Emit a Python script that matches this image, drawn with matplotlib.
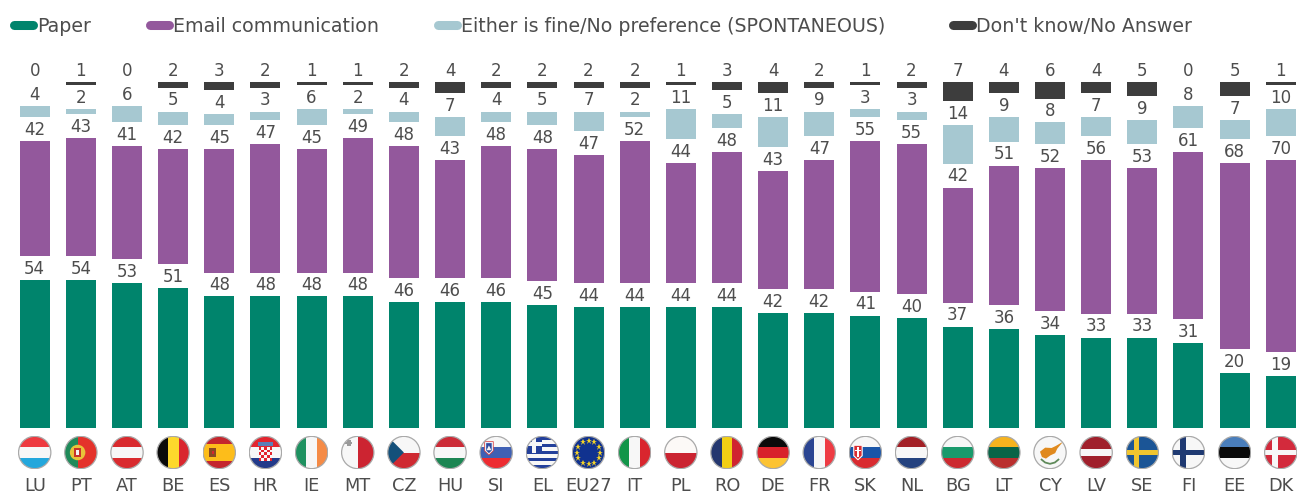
import numpy as np
import matplotlib
matplotlib.use('Agg')
import matplotlib.pyplot as plt
from matplotlib.patches import Circle, Polygon, Rectangle
from matplotlib.lines import Line2D

countries = ['LU', 'PT', 'AT', 'BE', 'ES', 'HR', 'IE', 'MT', 'CZ', 'HU', 'SI', 'EL', 'EU27', 'IT',
             'PL', 'RO', 'DE', 'FR', 'SK', 'NL', 'BG', 'LT', 'CY', 'LV', 'SE', 'FI', 'EE', 'DK']
paper = [54, 54, 53, 51, 48, 48, 48, 48, 46, 46, 46, 45, 44, 44, 44, 44, 42, 42, 41, 40, 37, 36, 34, 33, 33, 31, 20, 19]
email = [42, 43, 41, 42, 45, 47, 45, 49, 48, 43, 48, 48, 47, 52, 44, 48, 43, 47, 55, 55, 42, 51, 52, 56, 53, 61, 68, 70]
either = [4, 2, 6, 5, 4, 3, 6, 2, 4, 7, 4, 5, 7, 2, 11, 5, 11, 9, 3, 3, 14, 9, 8, 7, 9, 8, 7, 10]
dont_know = [0, 1, 0, 2, 3, 2, 1, 1, 2, 4, 2, 2, 2, 2, 1, 3, 4, 2, 1, 2, 7, 4, 6, 4, 5, 0, 5, 1]

series_names = ['Paper', 'Email communication', 'Either is fine/No preference (SPONTANEOUS)', "Don't know/No Answer"]
series_colors = ['#00846c', '#93589c', '#a6c8d1', '#3d3d3d']
legend_x = [10, 146, 434, 949]  # pixels
TEXT = '#4d4d4d'

W, H = 1297, 494
PX_X = 46.15  # px per category
PX_Y = 2.74   # px per percent
BASE = 428    # baseline in px from the top
GAP = 8.75    # room for the labels between the segments

plt.rcParams['font.family'] = ['DejaVu Sans']


def stripes_h(fa, colors, sizes=None):
    sizes = sizes or [1] * len(colors)
    edges = 1 - 2 * np.cumsum([0] + sizes) / sum(sizes)
    for i, c in enumerate(colors):
        fa.add_patch(Rectangle((-1.1, edges[i + 1]), 2.2, edges[i] - edges[i + 1], color=c, lw=0))


def stripes_v(fa, colors, sizes=None):
    sizes = sizes or [1] * len(colors)
    edges = -1 + 2 * np.cumsum([0] + sizes) / sum(sizes)
    for i, c in enumerate(colors):
        fa.add_patch(Rectangle((edges[i], -1.1), edges[i + 1] - edges[i], 2.2, color=c, lw=0))


def nordic(fa, bg, cross):
    fa.add_patch(Rectangle((-1.1, -1.1), 2.2, 2.2, color=bg, lw=0))
    fa.add_patch(Rectangle((-1.1, -0.17), 2.2, 0.34, color=cross, lw=0))
    fa.add_patch(Rectangle((-0.52, -1.1), 0.34, 2.2, color=cross, lw=0))


def draw_flag(fa, code):
    W_ = '#f7f7f7'
    if code == 'LU':
        stripes_h(fa, ['#ee3a40', W_, '#23a7dc'])
    elif code == 'PT':
        stripes_v(fa, ['#1f8a5a', '#e4322b'], [2, 3])
        fa.add_patch(Circle((-0.2, 0), 0.48, color='#e8c33a', lw=0))
        fa.add_patch(Rectangle((-0.44, -0.3), 0.48, 0.6, color='#c8322b', lw=0))
        fa.add_patch(Rectangle((-0.3, -0.16), 0.2, 0.32, color='#f4f4f4', lw=0))
    elif code == 'AT':
        stripes_h(fa, ['#d92a2e', W_, '#d92a2e'])
    elif code == 'BE':
        stripes_v(fa, ['#0a0a0a', '#fdd82c', '#d9262e'])
    elif code == 'ES':
        stripes_h(fa, ['#c4262e', '#fdbd1a', '#c4262e'], [1, 2, 1])
        fa.add_patch(Rectangle((-0.62, -0.28), 0.42, 0.55, color='#8a4a24', lw=0))
        fa.add_patch(Rectangle((-0.48, -0.1), 0.14, 0.2, color='#d9262e', lw=0))
    elif code == 'HR':
        stripes_h(fa, ['#e3252f', W_, '#223a8a'])
        fa.add_patch(Rectangle((-0.42, -0.5), 0.84, 0.85, color=W_, lw=0))
        for i in range(5):
            for j in range(5):
                if (i + j) % 2 == 0:
                    fa.add_patch(Rectangle((-0.42 + i * 0.168, -0.5 + j * 0.17), 0.168, 0.17, color='#e3252f', lw=0))
        fa.add_patch(Rectangle((-0.45, 0.38), 0.9, 0.24, color='#5a7fb8', lw=0))
    elif code == 'IE':
        stripes_v(fa, ['#1e9160', W_, '#f58b46'])
    elif code == 'MT':
        stripes_v(fa, [W_, '#cc2431'])
        fa.add_patch(Rectangle((-0.66, 0.38), 0.22, 0.42, color='#9a9a9a', lw=0))
        fa.add_patch(Rectangle((-0.76, 0.5), 0.42, 0.18, color='#9a9a9a', lw=0))
    elif code == 'CZ':
        stripes_h(fa, [W_, '#cf2a32'])
        fa.add_patch(Polygon([(-1.1, 1.1), (0, 0), (-1.1, -1.1)], color='#14507a', lw=0))
    elif code == 'HU':
        stripes_h(fa, ['#cc2b37', W_, '#1c8653'])
    elif code == 'SI':
        stripes_h(fa, [W_, '#3f60b4', '#ed2c31'])
        fa.add_patch(Polygon([(-0.72, 0.68), (-0.18, 0.68), (-0.18, 0.1), (-0.45, -0.16), (-0.72, 0.1)], color='#e9eef8', ec='#d33', lw=0.5))
        fa.add_patch(Polygon([(-0.62, 0.58), (-0.28, 0.58), (-0.28, 0.12), (-0.45, -0.04), (-0.62, 0.12)], color='#2d4aa0', lw=0))
        fa.add_patch(Polygon([(-0.6, 0.14), (-0.45, 0.44), (-0.3, 0.14)], color='#f4f4f4', lw=0))
    elif code == 'EL':
        stripes_h(fa, ['#23409b', W_] * 4 + ['#23409b'])
        fa.add_patch(Rectangle((-1.1, 0.0), 1.1, 1.1, color='#23409b', lw=0))
        fa.add_patch(Rectangle((-1.1, 0.42), 1.1, 0.2, color=W_, lw=0))
        fa.add_patch(Rectangle((-0.62, 0.0), 0.2, 1.1, color=W_, lw=0))
    elif code == 'EU27':
        fa.add_patch(Rectangle((-1.1, -1.1), 2.2, 2.2, color='#10328f', lw=0))
        ang = np.arange(12) * np.pi / 6
        fa.plot(0.72 * np.cos(ang), 0.72 * np.sin(ang), ls='', marker='*', ms=5, mfc='#f5d327', mew=0)
    elif code == 'IT':
        stripes_v(fa, ['#129549', W_, '#d9262e'])
    elif code == 'PL':
        stripes_h(fa, ['#fcf9f7', '#cb2431'])
    elif code == 'RO':
        stripes_v(fa, ['#24376f', '#f2cf14', '#d02530'])
    elif code == 'DE':
        stripes_h(fa, ['#0a0a0a', '#d8212b', '#fcc332'])
    elif code == 'FR':
        stripes_v(fa, ['#2b4592', W_, '#ee3b43'])
    elif code == 'SK':
        stripes_h(fa, [W_, '#1a55a8', '#d92b30'])
        fa.add_patch(Polygon([(-0.72, 0.45), (-0.2, 0.45), (-0.2, -0.2), (-0.46, -0.45), (-0.72, -0.2)], color='#d92b30', ec='white', lw=0.8))
        fa.add_patch(Rectangle((-0.5, -0.25), 0.08, 0.6, color='white', lw=0))
        fa.add_patch(Rectangle((-0.62, 0.08), 0.32, 0.07, color='white', lw=0))
    elif code == 'NL':
        stripes_h(fa, ['#a32026', W_, '#24427f'])
    elif code == 'BG':
        stripes_h(fa, [W_, '#199a6c', '#cc2a30'])
    elif code == 'LT':
        stripes_h(fa, ['#f6b31f', '#096447', '#ba2f2e'])
    elif code == 'CY':
        fa.add_patch(Rectangle((-1.1, -1.1), 2.2, 2.2, color=W_, lw=0))
        fa.add_patch(Polygon([(-0.62, 0.05), (-0.3, 0.3), (0.1, 0.28), (0.35, 0.4), (0.8, 0.66), (0.45, 0.24),
                              (0.32, -0.04), (0.02, -0.18), (-0.25, -0.38), (-0.5, -0.28)], color='#e08a1e', lw=0))
        fa.plot([-0.52, -0.3, 0, 0.3, 0.52], [-0.44, -0.62, -0.7, -0.62, -0.44], color='#5f8a5a', lw=1.3)
    elif code == 'LV':
        stripes_h(fa, ['#a0202c', W_, '#a0202c'], [2, 1, 2])
    elif code == 'SE':
        nordic(fa, '#1b5596', '#f0c52f')
    elif code == 'FI':
        nordic(fa, '#f7f7f7', '#1f3a72')
    elif code == 'EE':
        stripes_h(fa, ['#4a7ebb', '#0a0a0a', W_])
    elif code == 'DK':
        nordic(fa, '#d32a3c', '#f7f7f7')

    # cut everything to a round flag
    clip = Circle((0, 0), 1, transform=fa.transData)
    for art in fa.patches + fa.lines:
        art.set_clip_path(clip)
    fa.add_patch(Circle((0, 0), 1, fc='none', ec='#a9a9a9', lw=0.9))


def main():
    fig = plt.figure(figsize=(W / 100, H / 100), dpi=100)
    ax = fig.add_axes([0, (H - BASE) / H, 1, BASE / H])
    x = np.arange(len(countries))
    ax.set_xlim(-34.7 / PX_X, (W - 34.7) / PX_X)
    ax.set_ylim(0, BASE / PX_Y)

    values = [np.array(paper), np.array(email), np.array(either), np.array(dont_know)]
    bottom = np.zeros(len(countries))
    for k, v in enumerate(values):
        ax.bar(x, v, 30 / PX_X, bottom=bottom, color=series_colors[k], lw=0)
        top = bottom + v
        for xi, yi, val in zip(x, top, v):
            ax.text(xi, yi + GAP / 2 - 0.3, str(val), ha='center', va='center', fontsize=12, color=TEXT)
        bottom = top + GAP

    for sp in ax.spines.values():
        sp.set_visible(False)
    ax.set_yticks([])
    ax.set_xticks(x, countries)
    ax.tick_params(axis='x', length=0, pad=35.5, labelsize=12.8, labelcolor=TEXT)

    # flags
    for xi, code in zip(x, countries):
        fw = 33.6 / PX_X
        fh = 33.6 / PX_Y
        fa = ax.inset_axes([xi - fw / 2, (BASE - 452.5 - 16.8) / PX_Y, fw, fh], transform=ax.transData)
        fa.set_xlim(-1.04, 1.04)
        fa.set_ylim(-1.04, 1.04)
        fa.axis('off')
        draw_flag(fa, code)

    # legend
    for name, col, lx in zip(series_names, series_colors, legend_x):
        fig.add_artist(Line2D([(lx + 4) / W, (lx + 23) / W], [1 - 25.5 / H] * 2, color=col, lw=6.5, solid_capstyle='round'))
        fig.text((lx + 27) / W, 1 - 26 / H, name, fontsize=13.7, color=TEXT, ha='left', va='center')

    fig.savefig('out.png', dpi=100)


if __name__ == '__main__':
    main()
